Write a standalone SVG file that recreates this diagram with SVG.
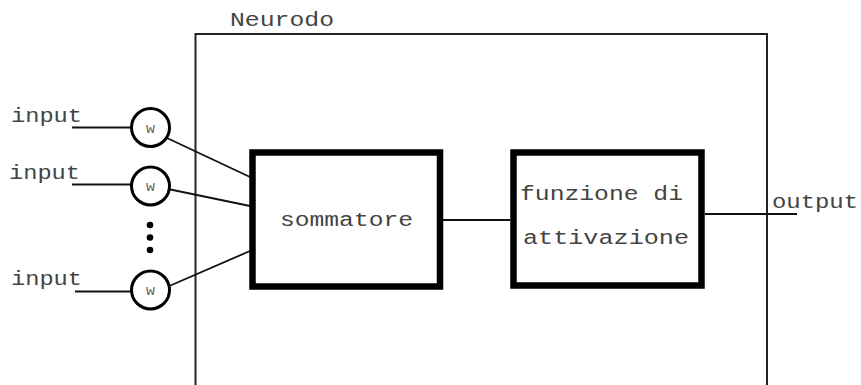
<svg xmlns="http://www.w3.org/2000/svg" width="861" height="385" viewBox="0 0 861 385">
  <style>
    .lbl { font-family: "Liberation Mono", "Courier New", monospace; font-size: 20px; fill: #444; }
    .w { font-family: "Liberation Mono", "Courier New", monospace; font-size: 15px; fill: #666; text-anchor: middle; }
    .wire { stroke: #111; stroke-width: 1.8; fill: none; }
    .block { fill: #fff; stroke: #000; stroke-width: 6.5; }
    .weight { fill: #fff; stroke: #000; stroke-width: 3; }
  </style>
  <rect width="861" height="385" fill="#fff"/>

  <!-- neuron frame (open at the bottom) -->
  <g id="neurodo">
    <path d="M195.5 385 V34 H767 V385" fill="none" stroke="#222" stroke-width="2"/>
    <text class="lbl" x="230" y="26" textLength="104" lengthAdjust="spacingAndGlyphs">Neurodo</text>
  </g>

  <g id="connectors">
    <line class="wire" x1="72" y1="127.5" x2="132" y2="127.5"/>
    <line class="wire" x1="72" y1="184.5" x2="132" y2="184.5"/>
    <line class="wire" x1="75" y1="291.5" x2="132" y2="291.5"/>
    <line class="wire" x1="167" y1="138" x2="250" y2="177"/>
    <line class="wire" x1="168" y1="189" x2="250" y2="206"/>
    <line class="wire" x1="167" y1="287" x2="250" y2="251"/>
    <line class="wire" x1="443" y1="220" x2="510" y2="220"/>
    <line class="wire" x1="705" y1="214" x2="797" y2="214"/>
  </g>

  <g id="input1">
    <text class="lbl" x="11" y="122" textLength="71" lengthAdjust="spacingAndGlyphs">input</text>
  </g>
  <g id="input2">
    <text class="lbl" x="9" y="179" textLength="71" lengthAdjust="spacingAndGlyphs">input</text>
  </g>
  <g id="input3">
    <text class="lbl" x="11" y="285" textLength="71" lengthAdjust="spacingAndGlyphs">input</text>
  </g>

  <g id="weight1">
    <circle class="weight" cx="150.5" cy="127.5" r="19"/>
    <text class="w" x="150.5" y="132.5">w</text>
  </g>
  <g id="weight2">
    <circle class="weight" cx="150.5" cy="186" r="19"/>
    <text class="w" x="150.5" y="191">w</text>
  </g>
  <g id="ellipsis">
    <circle cx="150" cy="225" r="3.3" fill="#000"/>
    <circle cx="150" cy="237.5" r="3.3" fill="#000"/>
    <circle cx="150" cy="250" r="3.3" fill="#000"/>
  </g>
  <g id="weight3">
    <circle class="weight" cx="150.5" cy="290" r="19"/>
    <text class="w" x="150.5" y="295">w</text>
  </g>

  <g id="sommatore">
    <rect class="block" x="252.5" y="152.5" width="187.5" height="134"/>
    <text class="lbl" x="280" y="226" textLength="133" lengthAdjust="spacingAndGlyphs">sommatore</text>
  </g>

  <g id="attivazione">
    <rect class="block" x="513.5" y="152.5" width="188" height="133"/>
    <text class="lbl" x="520" y="200" textLength="163" lengthAdjust="spacingAndGlyphs">funzione di</text>
    <text class="lbl" x="523" y="244" textLength="166" lengthAdjust="spacingAndGlyphs">attivazione</text>
  </g>

  <g id="output">
    <text class="lbl" x="772" y="208" textLength="86" lengthAdjust="spacingAndGlyphs">output</text>
  </g>
</svg>
